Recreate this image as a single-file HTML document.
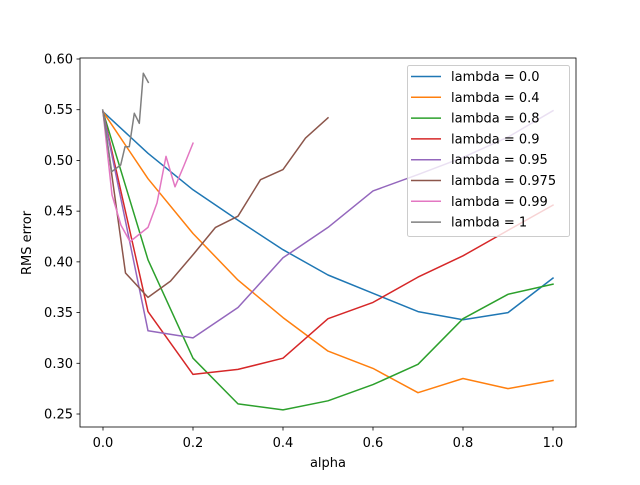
<!DOCTYPE html>
<html><head><meta charset="utf-8"><style>
body{margin:0;background:#fff}
text{font-family:"DejaVu Sans","Liberation Sans",sans-serif;font-size:13px;fill:#000}
</style></head><body>
<svg id="s" width="640" height="480" xmlns="http://www.w3.org/2000/svg">
<rect x="0" y="0" width="640" height="480" fill="#fff"/>
<g id="lines" fill="none" stroke-width="1.5" stroke-linejoin="round" stroke-linecap="square"></g>
<rect x="80" y="58" width="496" height="369" fill="none" stroke="#000" stroke-width="0.8"/>
<g id="ticks" stroke="#000" stroke-width="0.8"></g>
<g id="tl"></g>
<text x="328" y="467" text-anchor="middle">alpha</text>
<text transform="translate(31,243) rotate(-90)" text-anchor="middle">RMS error</text>
<rect x="407.5" y="65.5" width="162" height="171" rx="2" fill="#fff" fill-opacity="0.8" stroke="#ccc" stroke-width="1"/>
<g id="leg"></g>
</svg>
<script>
var X=a=>103+450*a, Y=v=>59+(0.6-v)*1014.3;
var ns="http://www.w3.org/2000/svg";
function el(p,t,at,tx){var e=document.createElementNS(ns,t);for(var k in at)e.setAttribute(k,at[k]);if(tx)e.textContent=tx;document.getElementById(p).appendChild(e);return e;}
var A=[0,.1,.2,.3,.4,.5,.6,.7,.8,.9,1];
var S=[
["#1f77b4","lambda = 0.0",A,[.548,.507,.471,.441,.412,.387,.369,.351,.343,.350,.384]],
["#ff7f0e","lambda = 0.4",A,[.548,.482,.428,.382,.345,.312,.295,.271,.285,.275,.283]],
["#2ca02c","lambda = 0.8",A,[.548,.402,.305,.260,.254,.263,.279,.299,.344,.368,.378]],
["#d62728","lambda = 0.9",A,[.548,.351,.289,.294,.305,.344,.360,.385,.406,.431,.456]],
["#9467bd","lambda = 0.95",A,[.548,.332,.325,.355,.404,.434,.470,.486,.503,.523,.549]],
["#8c564b","lambda = 0.975",[0,.05,.1,.15,.2,.25,.3,.35,.4,.45,.5],[.548,.389,.365,.381,.407,.434,.445,.481,.491,.522,.542]],
["#e377c2","lambda = 0.99",[0,.02,.04,.06,.08,.1,.12,.14,.16,.18,.2],[.548,.466,.436,.420,.427,.434,.458,.504,.474,.495,.517]],
["#7f7f7f","lambda = 1",null,[[102.7,110],[111.7,171.7],[120.7,165],[125,146.7],[129.3,146.7],[134.3,113.3],[139.3,123.3],[143.3,73.3],[148.3,82.3]]]
];
S.forEach(function(s,i){
 var pts=s[2]?s[2].map((a,j)=>X(a).toFixed(1)+","+Y(s[3][j]).toFixed(1)).join(" "):s[3].map(p=>p.join(",")).join(" ");
 el("lines","polyline",{points:pts,stroke:s[0]});
 var y=76.5+i*20.8;
 el("leg","line",{x1:411,x2:441,y1:y,y2:y,stroke:s[0],"stroke-width":1.5});
 el("leg","text",{x:451,y:y+4.5},s[1]);
});
[0,.2,.4,.6,.8,1].forEach(function(a){var x=X(a);el("ticks","line",{x1:x,x2:x,y1:427,y2:430.5});el("tl","text",{x:x,y:447,"text-anchor":"middle"},a.toFixed(1));});
for(var v=.25;v<.601;v+=.05){var y=Y(v);el("ticks","line",{x1:76.5,x2:80,y1:y,y2:y});el("tl","text",{x:73,y:y+4.5,"text-anchor":"end"},v.toFixed(2));}
</script>
</body></html>
